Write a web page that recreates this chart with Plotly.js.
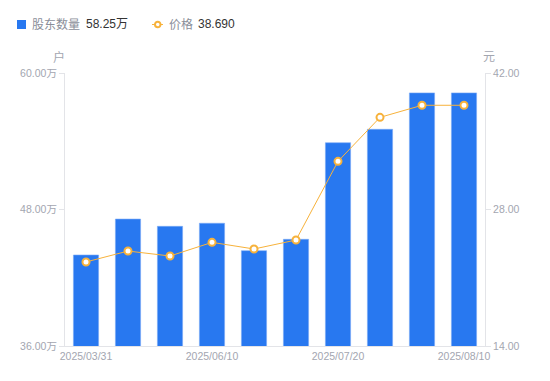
<!DOCTYPE html>
<html><head><meta charset="utf-8">
<script src="https://cdn.plot.ly/plotly-3.0.1.min.js"></script>
<style>html,body{margin:0;padding:0;background:#fff;}#c{width:550px;height:381px;}</style>
</head><body><div id="c"></div>
<script>
const dates = ['2025/03/31','2025/04/30','2025/05/20','2025/06/10','2025/06/20','2025/06/30','2025/07/20','2025/07/31','2025/08/01','2025/08/10'];
const holders = [44.0, 47.16, 46.52, 46.79, 44.38, 45.38, 53.87, 55.05, 58.25, 58.25]; // 万户
const price = [22.62, 23.74, 23.23, 24.63, 23.95, 24.87, 32.94, 37.45, 38.69, 38.69];
const tickIdx = [0, 3, 6, 9];
const leftTicks = [36, 48, 60];
const rightTicks = [14, 28, 42];

const font = 'Liberation Sans, Arial, "Noto Sans CJK SC", sans-serif';
const grey = '#a3a6b0';
const blue = '#2878f0';
const orange = '#f7b23b';

const traces = [
  {type:'bar', x:dates, y:holders, name:'股东数量', yaxis:'y',
   marker:{color:blue, line:{color:'#7aaaf5', width:0.6}}, showlegend:false, hoverinfo:'none'},
  {type:'scatter', mode:'lines+markers', x:dates, y:price, name:'价格', yaxis:'y2',
   line:{color:orange, width:1},
   marker:{symbol:'circle', size:7, color:'#ffffff', line:{color:orange, width:2}},
   showlegend:false, hoverinfo:'none'}
];

const lastH = holders[holders.length-1].toFixed(2) + '万';
const lastP = price[price.length-1].toFixed(3);

const px = v => (v-65)/420;
const py = v => (346-v)/273;
const ly = py(24.5);

const layout = {
  width:550, height:381,
  margin:{l:65, r:65, t:73, b:35},
  paper_bgcolor:'#fff', plot_bgcolor:'#fff',
  font:{family:font, size:10.5, color:grey},
  bargap:0.4,
  showlegend:false,
  xaxis:{type:'category', range:[-0.5, 9.5], showgrid:false, zeroline:false,
    showline:true, linecolor:'#e3e4e8', linewidth:1, ticks:'',
    tickmode:'array', tickvals:tickIdx.map(i=>dates[i]), ticktext:tickIdx.map(i=>dates[i]),
    tickfont:{size:10.5, color:grey}, tickangle:0, fixedrange:true},
  yaxis:{range:[36,60], tickmode:'array', tickvals:leftTicks, ticktext:leftTicks.map(v=>v.toFixed(2)+'万'),
    showgrid:false, zeroline:false, showline:true, linecolor:'#e3e4e8', linewidth:1,
    ticks:'outside', ticklen:5, tickcolor:'#e3e4e8', tickfont:{size:10.5, color:grey}},
  yaxis2:{range:[14,42], overlaying:'y', side:'right', tickmode:'array', tickvals:rightTicks,
    ticktext:rightTicks.map(v=>v.toFixed(2)),
    showgrid:false, zeroline:false, showline:true, linecolor:'#e3e4e8', linewidth:1,
    ticks:'outside', ticklen:5, tickcolor:'#e3e4e8', tickfont:{size:10.5, color:grey}},
  shapes:[
    {type:'rect', xref:'paper', yref:'paper', x0:px(17), x1:px(26), y0:py(29), y1:py(20),
     fillcolor:blue, line:{width:0}, layer:'above'},
    {type:'line', xref:'paper', yref:'paper', x0:px(152), x1:px(163), y0:ly, y1:ly,
     line:{color:orange, width:1}},
    {type:'circle', xref:'paper', yref:'paper', x0:px(155), x1:px(160.5), y0:py(27.3), y1:py(21.7),
     fillcolor:'#fff', line:{color:orange, width:2}}
  ],
  annotations:[
    {xref:'paper', yref:'paper', x:px(30), y:ly, xanchor:'left', yanchor:'middle', showarrow:false,
     text:'股东数量', font:{size:12, color:'#8a8e99', family:font}},
    {xref:'paper', yref:'paper', x:px(84), y:ly, xanchor:'left', yanchor:'middle', showarrow:false,
     text:lastH, font:{size:12, color:'#333333', family:font}},
    {xref:'paper', yref:'paper', x:px(167), y:ly, xanchor:'left', yanchor:'middle', showarrow:false,
     text:'价格', font:{size:12, color:'#8a8e99', family:font}},
    {xref:'paper', yref:'paper', x:px(196), y:ly, xanchor:'left', yanchor:'middle', showarrow:false,
     text:lastP, font:{size:12, color:'#333333', family:font}},
    {xref:'paper', yref:'paper', x:px(59), y:py(57), xanchor:'center', yanchor:'middle', showarrow:false,
     text:'户', font:{size:12, color:grey, family:font}},
    {xref:'paper', yref:'paper', x:px(489), y:py(57), xanchor:'center', yanchor:'middle', showarrow:false,
     text:'元', font:{size:12, color:grey, family:font}}
  ]
};

Plotly.newPlot('c', traces, layout, {staticPlot:true, displayModeBar:false});
</script></body></html>
